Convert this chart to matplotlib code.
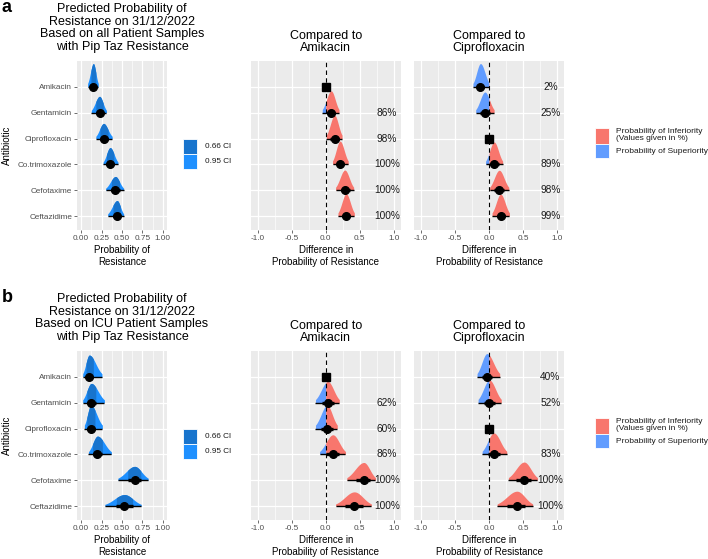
# Recreation of the halfeye comparison figure (panels a and b)
import numpy as np
import matplotlib
matplotlib.use('Agg')
import matplotlib.pyplot as plt
from matplotlib.patches import Rectangle

plt.rcParams['font.family'] = ['Liberation Sans', 'DejaVu Sans']

# Data
Antibiotics = ['Amikacin', 'Gentamicin', 'Ciprofloxacin', 'Co.trimoxazole', 'Cefotaxime', 'Ceftazidime']

# a - all patients, predicted probability of resistance
AllMed = [0.15, 0.225, 0.275, 0.355, 0.42, 0.44]
AllLo95 = [0.08, 0.125, 0.18, 0.27, 0.30, 0.325]
AllHi95 = [0.21, 0.31, 0.38, 0.45, 0.52, 0.52]
AllLo66 = [0.12, 0.18, 0.23, 0.31, 0.37, 0.39]
AllHi66 = [0.18, 0.27, 0.33, 0.40, 0.47, 0.48]

# a - difference vs amikacin
AllAmkMed = [0, 0.08, 0.13, 0.21, 0.28, 0.30]
AllAmkLo95 = [0, -0.05, 0.01, 0.10, 0.145, 0.18]
AllAmkHi95 = [0, 0.195, 0.24, 0.33, 0.41, 0.42]
AllAmkLo66 = [0, 0.02, 0.07, 0.16, 0.22, 0.24]
AllAmkHi66 = [0, 0.14, 0.19, 0.27, 0.35, 0.36]
AllAmkPct = [None, 86, 98, 100, 100, 100]

# a - difference vs ciprofloxacin
AllCipMed = [-0.125, -0.06, 0, 0.075, 0.15, 0.17]
AllCipLo95 = [-0.235, -0.195, 0, -0.05, 0.01, 0.045]
AllCipHi95 = [0.005, 0.075, 0, 0.20, 0.29, 0.30]
AllCipLo66 = [-0.18, -0.13, 0, 0.01, 0.08, 0.11]
AllCipHi66 = [-0.07, 0.01, 0, 0.14, 0.22, 0.23]
AllCipPct = [2, 25, None, 89, 98, 99]

# b - ICU patients, predicted probability of resistance
IcuMed = [0.10, 0.125, 0.12, 0.20, 0.655, 0.53]
IcuLo95 = [0.02, 0.02, 0.04, 0.09, 0.45, 0.29]
IcuHi95 = [0.255, 0.285, 0.26, 0.37, 0.82, 0.735]
IcuLo66 = [0.06, 0.07, 0.07, 0.14, 0.57, 0.43]
IcuHi66 = [0.15, 0.18, 0.17, 0.26, 0.73, 0.63]

# b - difference vs amikacin
IcuAmkMed = [0, 0.03, 0.02, 0.105, 0.56, 0.42]
IcuAmkLo95 = [0, -0.15, -0.15, -0.09, 0.31, 0.145]
IcuAmkHi95 = [0, 0.20, 0.17, 0.29, 0.73, 0.67]
IcuAmkLo66 = [0, -0.06, -0.07, 0.01, 0.45, 0.29]
IcuAmkHi66 = [0, 0.12, 0.10, 0.20, 0.65, 0.55]
IcuAmkPct = [None, 62, 60, 86, 100, 100]

# b - difference vs ciprofloxacin
IcuCipMed = [-0.03, 0.005, 0, 0.07, 0.515, 0.41]
IcuCipLo95 = [-0.175, -0.16, 0, -0.10, 0.285, 0.12]
IcuCipHi95 = [0.157, 0.18, 0, 0.26, 0.71, 0.64]
IcuCipLo66 = [-0.11, -0.08, 0, -0.02, 0.40, 0.27]
IcuCipHi66 = [0.05, 0.09, 0, 0.16, 0.62, 0.53]
IcuCipPct = [40, 52, None, 83, 100, 100]

# Colours
CI66 = '#1874CD'
CI95 = '#1E90FF'
Inferior = '#F8766D'
Superior = '#619CFF'

W, H = 708, 559
fig = plt.figure(figsize=(W / 100, H / 100), dpi=100)
Rows = np.arange(len(Antibiotics), 0, -1)  # Amikacin on top


def px_axes(x0, y0, x1, y1):
    return fig.add_axes([x0 / W, 1 - y1 / H, (x1 - x0) / W, (y1 - y0) / H])


def fig_text(x, y, s, **kw):
    fig.text(x / W, 1 - y / H, s, **kw)


def style_axes(ax, xlim, xticks, xlabels, minor, show_y):
    ax.set_facecolor('#EBEBEB')
    for s in ax.spines.values():
        s.set_visible(False)
    ax.set_xlim(xlim)
    ax.set_ylim(0.46, 7.0)
    ax.set_xticks(xticks)
    ax.set_xticklabels(xlabels)
    ax.set_xticks(minor, minor=True)
    ax.set_yticks(Rows)
    ax.grid(True, which='major', color='white', lw=0.9)
    ax.grid(True, which='minor', axis='x', color='white', lw=0.45)
    ax.set_axisbelow(True)
    ax.tick_params(which='major', length=2, width=0.5, color='#333333',
                   labelsize=5.9, labelcolor='#4D4D4D', pad=1.5)
    ax.tick_params(which='minor', length=0)
    if show_y:
        ax.set_yticklabels(Antibiotics)
    else:
        ax.tick_params(axis='y', length=0, labelleft=False)


def slab(lo, med, hi, extra=None):
    # split normal shape through the 95% interval
    sl = max(med - lo, 1e-3) / 1.96
    sr = max(hi - med, 1e-3) / 1.96
    x = np.linspace(lo, hi, 300)
    if extra is not None and lo < extra < hi:
        x = np.sort(np.append(x, extra))
    sd = np.where(x < med, sl, sr)
    y = np.exp(-0.5 * ((x - med) / sd) ** 2) * 2 / (np.sqrt(2 * np.pi) * (sl + sr))
    return x, y


def peak(lo, med, hi):
    sl = max(med - lo, 1e-3) / 1.96
    sr = max(hi - med, 1e-3) / 1.96
    return 2 / (np.sqrt(2 * np.pi) * (sl + sr))


def point_interval(ax, row, lo95, lo66, med, hi66, hi95):
    ax.plot([lo95, hi95], [row, row], color='black', lw=1.0, solid_capstyle='butt', zorder=5)
    ax.plot([lo66, hi66], [row, row], color='black', lw=2.4, solid_capstyle='butt', zorder=5)
    ax.plot(med, row, 'o', ms=5.5, color='black', zorder=6)


def prob_panel(ax, med, lo95, hi95, lo66, hi66):
    style_axes(ax, (-0.05, 1.05), [0, 0.25, 0.5, 0.75, 1.0],
               ['0.00', '0.25', '0.50', '0.75', '1.00'],
               [0.125, 0.375, 0.625, 0.875], True)
    scale = 0.9 / max(peak(lo95[i], med[i], hi95[i]) for i in range(len(med)))
    for i, row in enumerate(Rows):
        x, y = slab(lo95[i], med[i], hi95[i])
        ax.fill_between(x, row, row + y * scale, color=CI95, lw=0, zorder=3)
        inner = (x >= lo66[i]) & (x <= hi66[i])
        ax.fill_between(x[inner], row, row + y[inner] * scale, color=CI66, lw=0, zorder=3)
        point_interval(ax, row, lo95[i], lo66[i], med[i], hi66[i], hi95[i])


def diff_panel(ax, med, lo95, hi95, lo66, hi66, pct):
    style_axes(ax, (-1.1, 1.1), [-1.0, -0.5, 0.0, 0.5, 1.0],
               ['-1.0', '-0.5', '0.0', '0.5', '1.0'],
               [-0.75, -0.25, 0.25, 0.75], False)
    ax.axvline(0, color='black', ls=(0, (4, 3)), lw=0.8, zorder=4)
    peaks = [peak(lo95[i], med[i], hi95[i]) for i in range(len(med)) if hi95[i] > lo95[i]]
    scale = 0.9 / max(peaks)
    for i, row in enumerate(Rows):
        if hi95[i] == lo95[i]:
            ax.plot(0, row, 's', ms=5.5, color='black', zorder=6)
            continue
        x, y = slab(lo95[i], med[i], hi95[i], extra=0.0)
        ax.fill_between(x, row, row + y * scale, where=x <= 0, color=Superior, lw=0, zorder=3)
        ax.fill_between(x, row, row + y * scale, where=x >= 0, color=Inferior, lw=0, zorder=3)
        point_interval(ax, row, lo95[i], lo66[i], med[i], hi66[i], hi95[i])
        if pct[i] is not None:
            ax.text(0.9, row, str(pct[i]) + '%', ha='center', va='center',
                    fontsize=7.3, color='#1A1A1A', zorder=7)


def block(dy, tag, group, prob, amk, cip):
    axL = px_axes(77, 61 + dy, 167, 230 + dy)
    prob_panel(axL, *prob)
    axM = px_axes(250.7, 61 + dy, 400.7, 230 + dy)
    diff_panel(axM, *amk)
    axR = px_axes(414, 61 + dy, 564, 230 + dy)
    diff_panel(axR, *cip)

    fig_text(1.5, 11.7 + dy, tag, fontsize=13, fontweight='bold', va='baseline', ha='left')
    fig_text(122, 28 + dy, 'Predicted Probability of\nResistance on 31/12/2022\nBased on ' + group +
             ' Patient Samples\nwith Pip Taz Resistance', ha='center', va='center', fontsize=9,
             linespacing=1.1, color='black')
    fig_text(325.7, 42 + dy, 'Compared to\nAmikacin', ha='center', va='center', fontsize=9, linespacing=1.1)
    fig_text(489, 42 + dy, 'Compared to\nCiprofloxacin', ha='center', va='center', fontsize=9, linespacing=1.1)

    fig_text(122, 256 + dy, 'Probability of\nResistance', ha='center', va='center', fontsize=7, linespacing=1.15)
    fig_text(325.7, 256 + dy, 'Difference in\nProbability of Resistance', ha='center', va='center',
             fontsize=7, linespacing=1.15)
    fig_text(489, 256 + dy, 'Difference in\nProbability of Resistance', ha='center', va='center',
             fontsize=7, linespacing=1.15)
    fig_text(7, 145.5 + dy, 'Antibiotic', rotation=90, ha='center', va='center', fontsize=7)

    # CI legend
    for k, (col, lab) in enumerate([(CI66, '0.66 CI'), (CI95, '0.95 CI')]):
        y0 = 139 + dy + 15 * k
        fig.add_artist(Rectangle((183 / W, 1 - (y0 + 15) / H), 14 / W, 15 / H, transform=fig.transFigure,
                                 facecolor=col, edgecolor='white', lw=0.6))
        fig_text(205, y0 + 7.5, lab, ha='left', va='center', fontsize=5.9, color='#1A1A1A')

    # inferiority / superiority legend
    fig.add_artist(Rectangle((595 / W, 1 - (143.5 + dy) / H), 14 / W, 15.5 / H, transform=fig.transFigure,
                             facecolor=Inferior, edgecolor='white', lw=0.6))
    fig.add_artist(Rectangle((595 / W, 1 - (158 + dy) / H), 14 / W, 14.5 / H, transform=fig.transFigure,
                             facecolor=Superior, edgecolor='white', lw=0.6))
    fig_text(615.5, 135 + dy, 'Probability of Inferiority\n(Values given in %)', ha='left', va='center',
             fontsize=6, linespacing=1.0, color='#1A1A1A')
    fig_text(615.5, 151.5 + dy, 'Probability of Superiority', ha='left', va='center',
             fontsize=6, color='#1A1A1A')


block(0, 'a', 'all',
      (AllMed, AllLo95, AllHi95, AllLo66, AllHi66),
      (AllAmkMed, AllAmkLo95, AllAmkHi95, AllAmkLo66, AllAmkHi66, AllAmkPct),
      (AllCipMed, AllCipLo95, AllCipHi95, AllCipLo66, AllCipHi66, AllCipPct))
block(290, 'b', 'ICU',
      (IcuMed, IcuLo95, IcuHi95, IcuLo66, IcuHi66),
      (IcuAmkMed, IcuAmkLo95, IcuAmkHi95, IcuAmkLo66, IcuAmkHi66, IcuAmkPct),
      (IcuCipMed, IcuCipLo95, IcuCipHi95, IcuCipLo66, IcuCipHi66, IcuCipPct))

fig.savefig('out.png', dpi=100)
